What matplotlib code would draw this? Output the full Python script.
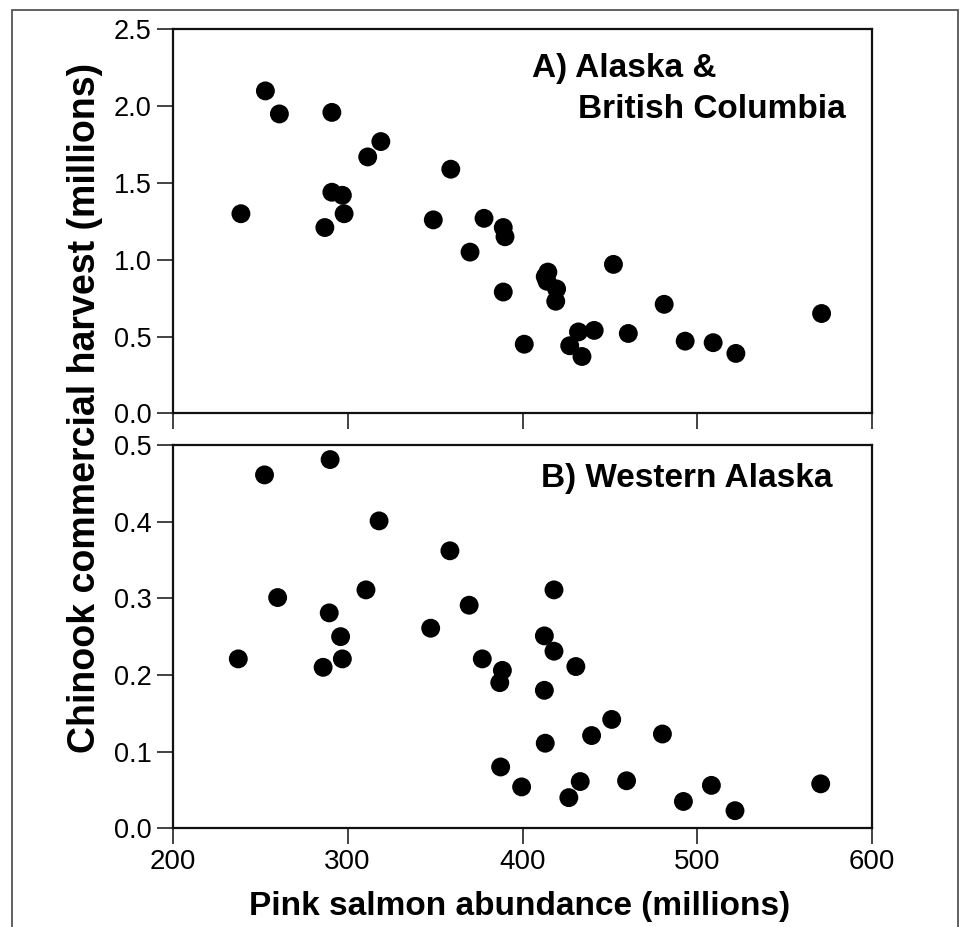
import matplotlib
matplotlib.use("Agg")
import matplotlib.pyplot as plt
from matplotlib.patches import Rectangle

plt.rcParams['font.family'] = ['Liberation Sans', 'DejaVu Sans']

# Panel A: Alaska & British Columbia
pink_a = [253, 261, 291, 319, 311.5, 359, 291, 297, 239, 298, 287, 349, 378, 389,
          390, 370, 389, 401, 414.5, 414, 413, 419.5, 419, 452, 427, 432, 441, 434,
          460.5, 481, 493, 509, 522, 571]
chinook_a = [2.10, 1.95, 1.96, 1.77, 1.67, 1.59, 1.44, 1.42, 1.30, 1.30, 1.21, 1.26,
             1.27, 1.21, 1.15, 1.05, 0.79, 0.45, 0.92, 0.86, 0.89, 0.81, 0.73, 0.97,
             0.44, 0.53, 0.54, 0.37, 0.52, 0.71, 0.47, 0.46, 0.39, 0.65]

# Panel B: Western Alaska
pink_b = [290, 252.5, 318, 358.5, 260, 310.5, 289.5, 369.5, 296, 347.5, 237.5, 297,
          286, 377, 388.5, 387, 412.5, 413, 387.5, 399.5, 418, 412.5, 418, 430.5,
          451, 439.5, 480, 433, 426.5, 459.5, 492, 508, 521.5, 570.5]
chinook_b = [0.481, 0.461, 0.401, 0.362, 0.301, 0.311, 0.281, 0.291, 0.250, 0.261,
             0.221, 0.221, 0.210, 0.221, 0.206, 0.190, 0.180, 0.111, 0.080, 0.054,
             0.311, 0.251, 0.231, 0.211, 0.142, 0.121, 0.123, 0.061, 0.040, 0.062,
             0.035, 0.056, 0.023, 0.058]

xticks = [200, 300, 400, 500, 600]
yticks_a = [0.0, 0.5, 1.0, 1.5, 2.0, 2.5]
yticks_b = [0.0, 0.1, 0.2, 0.3, 0.4, 0.5]

W, H = 963, 927
fig = plt.figure(figsize=(W / 100, H / 100), dpi=100)

def px_axes(left, top, right, bottom):
    return fig.add_axes([left / W, 1 - bottom / H, (right - left) / W, (bottom - top) / H])

ax_a = px_axes(172.7, 29.5, 872.3, 413.3)
ax_b = px_axes(172.7, 445.0, 872.3, 828.3)

for ax, xs, ys, yt, lim in [(ax_a, pink_a, chinook_a, yticks_a, 2.5),
                            (ax_b, pink_b, chinook_b, yticks_b, 0.5)]:
    ax.scatter(xs, ys, s=185, color='black', edgecolors='none', zorder=3, clip_on=False)
    ax.set_xlim(200, 600)
    ax.set_ylim(0, lim)
    ax.set_xticks(xticks)
    ax.set_yticks(yt)
    ax.set_yticklabels([f"{v:.1f}" for v in yt])
    for sp in ax.spines.values():
        sp.set_linewidth(1.6)
        sp.set_color('#111111')
    ax.tick_params(axis='both', direction='out', length=11.5, width=1.2, color='#222222')
    ax.tick_params(axis='y', labelsize=19.5, pad=3.5)
    ax.tick_params(axis='x', labelsize=20, pad=3.5)

ax_a.tick_params(axis='x', labelbottom=False)

ax_a.text(0.513, 0.876, "A) Alaska &", transform=ax_a.transAxes, fontsize=24,
          fontweight='bold', ha='left', va='baseline')
ax_a.text(0.580, 0.770, "British Columbia", transform=ax_a.transAxes, fontsize=24,
          fontweight='bold', ha='left', va='baseline')
ax_b.text(0.527, 0.890, "B) Western Alaska", transform=ax_b.transAxes, fontsize=24,
          fontweight='bold', ha='left', va='baseline')

fig.text(520 / W, 1 - 915 / H, "Pink salmon abundance (millions)", fontsize=24,
         fontweight='bold', ha='center', va='baseline')
fig.text(95 / W, 1 - 408 / H, "Chinook commercial harvest (millions)", fontsize=27,
         fontweight='bold', ha='center', va='baseline', rotation=90,
         rotation_mode='anchor')

# outer frame
fig.patches.append(Rectangle((12 / W, -0.05), (958 - 12) / W, 1 - 10 / H + 0.05,
                             transform=fig.transFigure, fill=False,
                             edgecolor='#555555', linewidth=1.3))

fig.savefig("out.png", dpi=100, facecolor='white')
